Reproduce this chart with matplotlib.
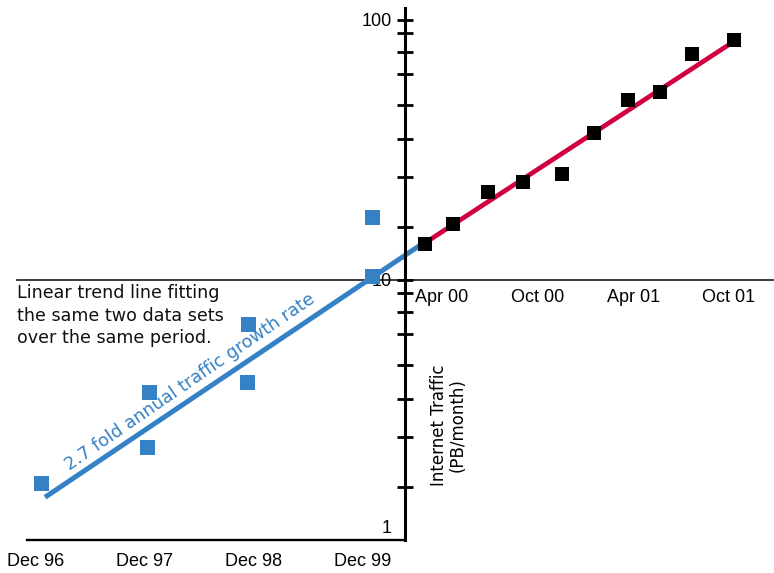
import matplotlib
matplotlib.use("Agg")
from matplotlib import pyplot as plt
from matplotlib.ticker import NullFormatter

plt.rcParams['font.family'] = ['Liberation Sans', 'DejaVu Sans']

# 1996-1999 data set (decimal years, PB/month)
early_x = [1996.996, 1997.987, 1997.968, 1998.895, 1998.886, 2000.03, 2000.03]
early_y = [1.66, 3.71, 2.28, 6.77, 4.05, 17.5, 10.4]
early_trend_x = [1997.033, 2000.473]
early_trend_y = [1.46, 13.6]

# 2000-2001 data set (decimal years, PB/month)
late_x = [2000.161, 2000.307, 2000.49, 2000.673, 2000.877,
          2001.045, 2001.222, 2001.39, 2001.557, 2001.776]
late_y = [13.7, 16.4, 21.8, 23.8, 25.6, 36.8, 49.2, 52.9, 74.0, 83.8]
late_trend_x = [2000.135, 2001.771]
late_trend_y = [13.5, 82.3]

early_ticks = [1996.95, 1997.95, 1998.95, 1999.95]
early_labels = ['Dec 96', 'Dec 97', 'Dec 98', 'Dec 99']
late_ticks = [2000.25, 2000.75, 2001.25, 2001.75]
late_labels = ['Apr 00', 'Oct 00', 'Apr 01', 'Oct 01']

y_major = [10, 100]
y_minor = [1.6, 2.5, 3.5, 4.7, 6.2, 7.5, 8.9,
           16, 25, 35, 47, 62, 75, 89]

blue = '#3481c5'
red = '#d1003f'
body_font = ['DejaVu Sans']

W, H = 774, 573
fig = plt.figure(figsize=(W / 100, H / 100), dpi=100)
ax = fig.add_axes([0, 33 / H, 1, 532 / H])
ax.set_yscale('log')
ax.set_ylim(1, 111.2)
ax.set_xlim(1996.62, 2003.721)
axis_x = 2000.335

# spines
for s in ['top', 'right']:
    ax.spines[s].set_visible(False)
ax.spines['left'].set_position(('data', axis_x))
ax.spines['left'].set_linewidth(2.2)
ax.spines['bottom'].set_linewidth(1.7)
ax.spines['bottom'].set_bounds(1996.867, axis_x)
ax.patch.set_visible(False)

ax.set_yticks(y_major, ['10', '100'])
ax.set_yticks(y_minor, minor=True)
ax.yaxis.set_minor_formatter(NullFormatter())
ax.tick_params(axis='y', which='both', direction='inout', length=11,
               width=2, pad=3.9, labelsize=13)
ax.annotate('1', xy=(axis_x, 1), xytext=(-9.5, 2.5), textcoords='offset points',
            ha='right', va='bottom', fontsize=13)

ax.set_xticks(early_ticks, early_labels)
ax.tick_params(axis='x', length=0, pad=9.4, labelsize=13)

ax.axhline(10, xmin=17 / W, xmax=1, color='#3c3c3c', lw=1.4, zorder=1.5)
ax.plot(early_trend_x, early_trend_y, color=blue, lw=3.6, solid_capstyle='butt', zorder=2)
ax.plot(early_x, early_y, 's', color=blue, markersize=10.8, markeredgewidth=0, zorder=3)

# second time scale for 2000-2001
ax2 = ax.twiny()
ax2.set_xlim(1997.939, 2001.985)
for s in ax2.spines.values():
    s.set_visible(False)
ax2.xaxis.set_ticks_position('bottom')
ax2.spines['bottom'].set_position(('data', 10))
ax2.set_xticks(late_ticks, late_labels)
ax2.tick_params(axis='x', length=0, pad=6.5, labelsize=13)
ax2.plot(late_trend_x, late_trend_y, color=red, lw=3.4, solid_capstyle='butt', zorder=2)
ax2.plot(late_x, late_y, 's', color='black', markersize=10.2, markeredgewidth=0, zorder=3)

fig.text(17 / W, 1 - 284 / H,
         'Linear trend line fitting\nthe same two data sets\nover the same period.',
         ha='left', va='top', fontsize=12.6, linespacing=1.33, family=body_font,
         color='#111111')
fig.text(70 / W, 1 - 471 / H, '2.7 fold annual traffic growth rate',
         color=blue, fontsize=12.7, rotation=34.5, rotation_mode='anchor',
         ha='left', va='baseline', family=body_font)
fig.text(448 / W, 1 - 425 / H, 'Internet Traffic\n(PB/month)', rotation=90,
         ha='center', va='center', multialignment='center', fontsize=12,
         linespacing=1.05, family=body_font)

fig.savefig('out.png', dpi=100)
